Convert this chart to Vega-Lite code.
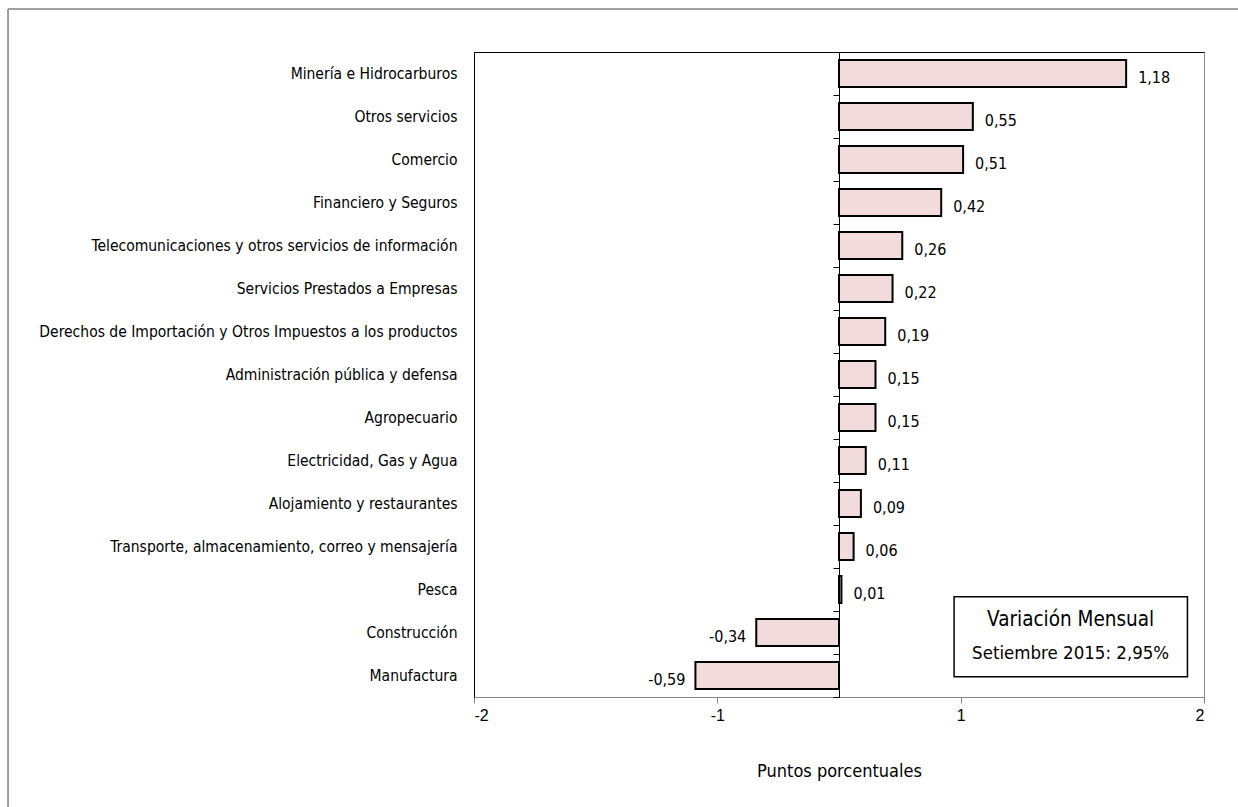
{
  "$schema": "https://vega.github.io/schema/vega-lite/v6.json",
  "width": 730,
  "height": 645,
  "autosize": {"type": "none"},
  "padding": {"left": 474, "top": 52, "right": 34, "bottom": 110},
  "background": "white",
  "config": {
    "locale": {"number": {"decimal": ",", "thousands": ".", "grouping": [3], "currency": ["", ""], "minus": "-"}},
    "view": {"stroke": "#8c8c8c", "strokeWidth": 1},
    "font": "DejaVu Sans Condensed",
    "axis": {"grid": false}
  },
  "data": {
    "values": [
      {"sector": "Minería e Hidrocarburos", "valor": 1.18},
      {"sector": "Otros servicios", "valor": 0.55},
      {"sector": "Comercio", "valor": 0.51},
      {"sector": "Financiero y Seguros", "valor": 0.42},
      {"sector": "Telecomunicaciones y otros servicios de información ", "valor": 0.26},
      {"sector": "Servicios Prestados a Empresas", "valor": 0.22},
      {"sector": "Derechos de Importación y Otros Impuestos a los productos", "valor": 0.19},
      {"sector": "Administración pública y defensa ", "valor": 0.15},
      {"sector": "Agropecuario", "valor": 0.15},
      {"sector": "Electricidad, Gas y Agua", "valor": 0.11},
      {"sector": "Alojamiento y restaurantes ", "valor": 0.09},
      {"sector": "Transporte, almacenamiento, correo y mensajería ", "valor": 0.06},
      {"sector": "Pesca", "valor": 0.01},
      {"sector": "Construcción", "valor": -0.34},
      {"sector": "Manufactura", "valor": -0.59}
    ]
  },
  "layer": [
    {
      "mark": {"type": "bar", "fill": "#F2DCDB", "stroke": "#000000", "strokeWidth": 2, "height": {"band": 0.63}},
      "encoding": {
        "y": {
          "field": "sector", "type": "nominal", "sort": null,
          "scale": {"paddingInner": 0, "paddingOuter": 0},
          "axis": {"orient": "left", "title": null, "domain": true, "domainColor": "#000000", "ticks": false, "labelPadding": 17, "labelFont": "DejaVu Sans Condensed", "labelFontSize": 15.5, "labelColor": "#000000", "labelLimit": 0}
        },
        "x": {
          "field": "valor", "type": "quantitative",
          "scale": {"domain": [-1.5, 1.5], "nice": false, "zero": false},
          "axis": {
            "orient": "bottom", "values": [-1.5, -0.5, 0.5, 1.5],
            "labelExpr": "(datum.value < 0 ? '-' : '') + ceil(abs(datum.value))",
            "domainColor": "#868686", "tickColor": "#868686", "tickSize": 6,
            "labelFont": "Liberation Sans", "labelFontSize": 16, "labelColor": "#000000", "labelPadding": 4,
            "title": "Puntos porcentuales", "titleFont": "DejaVu Sans Condensed", "titleFontSize": 18,
            "titleFontWeight": "normal", "titleColor": "#000000", "titlePadding": 39
          }
        }
      }
    },
    {
      "mark": {
        "type": "text", "fontSize": 16, "font": "DejaVu Sans Condensed", "color": "#000000", "dy": 4,
        "align": {"expr": "datum.valor < 0 ? 'right' : 'left'"},
        "dx": {"expr": "datum.valor < 0 ? -10 : 12"}
      },
      "encoding": {
        "y": {
          "field": "sector", "type": "nominal", "sort": null,
          "scale": {"paddingInner": 0, "paddingOuter": 0},
          "axis": {"orient": "left", "offset": -365, "title": null, "labels": false, "domain": true, "domainColor": "#000000", "ticks": true, "tickBand": "extent", "tickSize": 6, "tickColor": "#000000"}
        },
        "x": {
          "field": "valor", "type": "quantitative",
          "axis": {"orient": "top", "title": null, "labels": false, "ticks": false, "domain": true, "domainColor": "#000000"}
        },
        "text": {"field": "valor", "type": "quantitative", "format": ".2f"}
      }
    },
    {
      "data": {"values": [{}]},
      "mark": {"type": "rect", "fill": "white", "stroke": "#000000", "strokeWidth": 1.5},
      "encoding": {
        "x": {"datum": 0.473, "type": "quantitative", "axis": null},
        "x2": {"datum": 1.432},
        "y": {"datum": 0.47, "type": "quantitative", "scale": {"domain": [0, 15]}, "axis": null},
        "y2": {"datum": 2.33}
      }
    },
    {
      "data": {"values": [{}]},
      "mark": {"type": "text", "fontSize": 20.5, "font": "DejaVu Sans Condensed", "color": "#000000", "align": "center", "baseline": "middle"},
      "encoding": {
        "x": {"datum": 0.952, "type": "quantitative", "axis": null},
        "y": {"datum": 1.79, "type": "quantitative", "scale": {"domain": [0, 15]}, "axis": null},
        "text": {"value": "Variación Mensual"}
      }
    },
    {
      "data": {"values": [{}]},
      "mark": {"type": "text", "fontSize": 18.5, "font": "DejaVu Sans Condensed", "color": "#000000", "align": "center", "baseline": "middle"},
      "encoding": {
        "x": {"datum": 0.952, "type": "quantitative", "axis": null},
        "y": {"datum": 1.02, "type": "quantitative", "scale": {"domain": [0, 15]}, "axis": null},
        "text": {"value": "Setiembre 2015: 2,95%"}
      }
    },
    {
      "data": {"values": [{}]},
      "mark": {"type": "rule", "stroke": "#7f7f7f", "strokeWidth": 1.5},
      "encoding": {
        "x": {"datum": -3.415, "type": "quantitative", "axis": null},
        "x2": {"datum": 1.65},
        "y": {"datum": 16.0, "type": "quantitative", "scale": {"domain": [0, 15]}, "axis": null}
      }
    },
    {
      "data": {"values": [{}]},
      "mark": {"type": "rule", "stroke": "#7f7f7f", "strokeWidth": 1.5},
      "encoding": {
        "x": {"datum": -3.415, "type": "quantitative", "axis": null},
        "y": {"datum": 16.0, "type": "quantitative", "scale": {"domain": [0, 15]}, "axis": null},
        "y2": {"datum": -2.6}
      }
    }
  ],
  "resolve": {"scale": {"y": "independent"}, "axis": {"x": "independent", "y": "independent"}}
}
